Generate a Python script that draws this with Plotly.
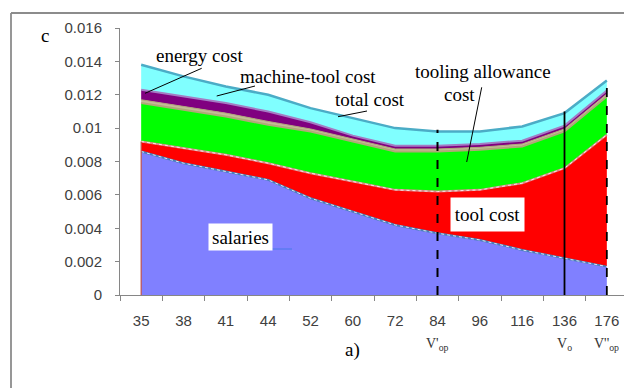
import numpy as np
import plotly.graph_objects as go

# ---- data ----
categories = ["35", "38", "41", "44", "52", "60", "72", "84", "96", "116", "136", "176"]
salaries = [0.0086, 0.0079, 0.0074, 0.0069, 0.0058, 0.0050, 0.0042, 0.0037, 0.0033, 0.0027, 0.0022, 0.0017]
tool_cost = [0.0006, 0.0009, 0.0010, 0.0010, 0.0015, 0.0018, 0.0021, 0.0025, 0.0030, 0.0040, 0.0054, 0.0079]
tooling_allowance = [0.0023, 0.0023, 0.0023, 0.0023, 0.0025, 0.0024, 0.0023, 0.0024, 0.0024, 0.0022, 0.0022, 0.0023]
other_cost = [0.0002, 0.0002, 0.0002, 0.0002, 0.00015, 0.00015, 0.00015, 0.00015, 0.00015, 0.00015, 0.00015, 0.00015]
energy_cost = [0.0006, 0.0006, 0.0006, 0.0006, 0.0004, 0.0002, 0.0002, 0.0002, 0.0002, 0.0002, 0.0002, 0.0002]
machine_tool_cost = [0.0015, 0.0012, 0.0010, 0.0010, 0.00085, 0.00105, 0.00105, 0.00085, 0.00075, 0.00085, 0.00075, 0.0006]

y_tick_vals = [0, 0.002, 0.004, 0.006, 0.008, 0.01, 0.012, 0.014, 0.016]
y_tick_text = ["0", "0.002", "0.004", "0.006", "0.008", "0.01", "0.012", "0.014", "0.016"]

marker_cats = ["84", "136", "176"]
marker_tops = [0.0099, 0.0110, 0.0129]
marker_labels = ["V'<sub>op</sub>", "V<sub>o</sub>", "V''<sub>op</sub>"]

# ---- layout helpers (window pixel -> paper); page body has an 8px margin ----
OFF = 8
W, H = 632 - OFF, 388 - OFF
L, R, T, B = 120 - OFF, 628 - OFF, 28 - OFF, 295 - OFF


def px(x):
    return (x - OFF - L) / (R - L)


def py(y):
    return (B - (y - OFF)) / (B - T)


fig = go.Figure()

layers = [
    (salaries, "#8080FF", "#4A7EBB", 2),
    (tool_cost, "#FF0000", "#D98A8A", 2),
    (tooling_allowance, "#00FF00", "#B0A878", 2),
    (other_cost, "#C4BD97", "#B0A878", 1),
    (energy_cost, "#800080", "#A47CC4", 2),
    (machine_tool_cost, "#80FFFF", "#4BACC6", 2.5),
]
for vals, fill, line, lw in layers:
    fig.add_trace(go.Scatter(x=categories, y=vals, stackgroup="one", mode="lines",
                             fillcolor=fill, line=dict(color=line, width=lw),
                             hoverinfo="skip"))

cum_sal = np.array(salaries)
cum_tool = cum_sal + np.array(tool_cost)
for cum in (cum_sal, cum_tool):
    fig.add_trace(go.Scatter(x=categories, y=list(cum), mode="lines",
                             line=dict(color="rgba(255,255,255,0.8)", width=1, dash="dot"),
                             hoverinfo="skip"))

# left edge of the areas
fig.add_trace(go.Scatter(x=[categories[0], categories[0]], y=[0, cum_tool[0]], mode="lines",
                         line=dict(color="#C0504D", width=1.2), hoverinfo="skip"))

# speed markers
styles = ["dash", "solid", "dash"]
widths = [2, 1.8, 1.8]
for c, top, st, w in zip(marker_cats, marker_tops, styles, widths):
    fig.add_trace(go.Scatter(x=[c, c], y=[0, top], mode="lines",
                             line=dict(color="black", width=w, dash=st), hoverinfo="skip"))

serif = "Liberation Serif"
sans = "Liberation Sans"

ann = []


def text(t, x, y, size=19, **kw):
    d = dict(text=t, x=px(x), y=py(y), xref="paper", yref="paper", showarrow=False,
             xanchor="center", yanchor="middle", font=dict(family=serif, size=size, color="black"))
    d.update(kw)
    ann.append(d)


text("c", 45, 36)
text("energy cost", 199, 55)
text("machine-tool cost", 308, 76)
text("total cost", 370, 99)
text("tooling allowance", 483, 72)
text("cost", 459, 95)
text("salaries", 240, 237, bgcolor="white", width=61, height=24)
text("tool cost", 487, 214.5, bgcolor="white", width=71, height=31)
text("a)", 352, 350)
text("V", 627, 307, xanchor="left", font=dict(family=sans, size=15, color="#404040"))

for c, lab in zip(marker_cats, marker_labels):
    ann.append(dict(text=lab, x=categories.index(c), y=py(344), xref="x", yref="paper",
                    showarrow=False, xanchor="center", yanchor="middle",
                    font=dict(family=serif, size=14, color="#333333")))

shapes = []


def seg(x0, y0, x1, y1, color="black", width=1):
    shapes.append(dict(type="line", xref="paper", yref="paper", x0=px(x0), y0=py(y0),
                       x1=px(x1), y1=py(y1), line=dict(color=color, width=width)))


seg(201.7, 68.3, 145, 93.3)
seg(255, 86, 216.7, 96)
seg(367, 111, 338, 116.7)
seg(481.7, 87.3, 466.7, 162)
seg(270, 249, 292, 249, color="#5B7BF0", width=1.5)

# outer chart border (cut by the image edge)
shapes.append(dict(type="line", xref="paper", yref="paper", x0=px(11), y0=py(13),
                   x1=px(640), y1=py(13), line=dict(color="#8C8C8C", width=1.8)))
shapes.append(dict(type="line", xref="paper", yref="paper", x0=px(11), y0=py(13),
                   x1=px(11), y1=py(400), line=dict(color="#8C8C8C", width=1.8)))

fig.update_layout(
    width=W, height=H,
    margin=dict(l=L, r=W - R, t=T, b=H - B),
    paper_bgcolor="white", plot_bgcolor="white",
    showlegend=False, hovermode=False,
    annotations=ann, shapes=shapes,
    xaxis=dict(type="category", range=[-0.5, len(categories) - 0.5], tickson="boundaries",
               ticks="outside", ticklen=5, tickcolor="#868686", showline=True,
               linecolor="#868686", linewidth=1, showgrid=False, zeroline=False,
               tickfont=dict(family=sans, size=15, color="#404040"), ticklabelstandoff=12),
    yaxis=dict(range=[0, 0.016], tickvals=y_tick_vals, ticktext=y_tick_text,
               ticks="outside", ticklen=4, tickcolor="#868686", showline=True,
               linecolor="#868686", linewidth=1, showgrid=False, zeroline=False,
               tickfont=dict(family=sans, size=15, color="#404040"), ticklabelstandoff=10),
)

fig.write_html("out.html")
